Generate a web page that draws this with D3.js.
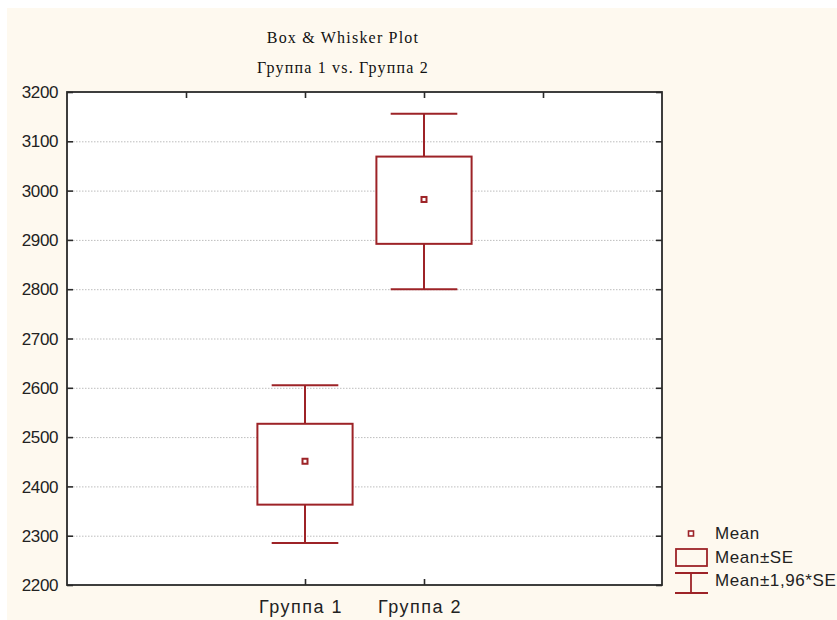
<!DOCTYPE html>
<html><head><meta charset="utf-8">
<script src="https://cdn.jsdelivr.net/npm/d3@7"></script>
<style>html,body{margin:0;padding:0;background:#fff;}svg{display:block;}</style>
</head><body>
<svg id="chart" width="837" height="620"></svg>
<script>
const categories = ["Группа 1", "Группа 2"];
const means = [2451, 2982];
const seLow = [2363, 2892];
const seHigh = [2527, 3069];
const ciLow = [2285, 2800];
const ciHigh = [2605, 3156];
const yTicks = [2200, 2300, 2400, 2500, 2600, 2700, 2800, 2900, 3000, 3100, 3200];
const legendLabels = ["Mean", "Mean±SE", "Mean±1,96*SE"];
const titleLines = ["Box & Whisker Plot", "Группа 1 vs. Группа 2"];

const svg = d3.select("#chart");
const W = 837, H = 620;
const red = "#9d2327";
const m = {left: 67, right: 662, top: 92, bottom: 585};

svg.append("rect").attr("x", 7).attr("y", 8).attr("width", W - 7).attr("height", H - 8).attr("fill", "#fef9ef");

const x = d3.scaleLinear().domain([-2, 3]).range([m.left, m.right]);
const y = d3.scaleLinear().domain([2200, 3200]).range([m.bottom, m.top]);

svg.append("rect").attr("x", m.left).attr("y", m.top)
  .attr("width", m.right - m.left).attr("height", m.bottom - m.top).attr("fill", "#fff");

// gridlines
svg.append("g").selectAll("line").data(yTicks.slice(1, -1)).join("line")
  .attr("x1", m.left + 6).attr("x2", m.right - 6)
  .attr("y1", d => y(d) + 0.5).attr("y2", d => y(d) + 0.5)
  .attr("stroke", "#bdbdbd").attr("stroke-width", 1).attr("stroke-dasharray", "1.5 1.5");

// axes
const axisCol = "#2a2a2a";
const gL = svg.append("g").attr("transform", `translate(${m.left},0)`)
  .call(d3.axisRight(y).tickValues(yTicks).tickSize(6).tickFormat(""));
const gR = svg.append("g").attr("transform", `translate(${m.right},0)`)
  .call(d3.axisLeft(y).tickValues(yTicks).tickSize(6).tickFormat(""));
const gT = svg.append("g").attr("transform", `translate(0,${m.top})`)
  .call(d3.axisBottom(x).tickValues([-1, 0, 1, 2]).tickSize(6).tickFormat(""));
const gB = svg.append("g").attr("transform", `translate(0,${m.bottom})`)
  .call(d3.axisTop(x).tickValues([0, 1]).tickSize(6).tickFormat(""));
[gL, gR, gT, gB].forEach(g => {
  g.select(".domain").remove();
  g.selectAll(".tick line").attr("stroke", axisCol).attr("stroke-width", 1.6);
});
svg.append("rect").attr("x", m.left).attr("y", m.top)
  .attr("width", m.right - m.left).attr("height", m.bottom - m.top)
  .attr("fill", "none").attr("stroke", axisCol).attr("stroke-width", 1.8);

// y labels
svg.append("g").selectAll("text").data(yTicks).join("text")
  .attr("x", 58).attr("y", d => y(d)).attr("dy", "0.36em")
  .attr("text-anchor", "end").attr("font-family", "Liberation Sans, Arial, sans-serif")
  .attr("font-size", 17).attr("letter-spacing", "-0.4").attr("fill", "#222").text(d => d);

// x labels
svg.append("g").selectAll("text").data(categories).join("text")
  .attr("x", (d, i) => x(i) - 4).attr("y", 613)
  .attr("text-anchor", "middle").attr("font-family", "Liberation Sans, Arial, sans-serif")
  .attr("font-size", 18).attr("letter-spacing", "1.5").attr("fill", "#222").text(d => d);

// title
svg.append("g").selectAll("text").data(titleLines).join("text")
  .attr("x", 343).attr("y", (d, i) => 43 + i * 30)
  .attr("text-anchor", "middle").attr("font-family", "Liberation Serif, Times New Roman, serif")
  .attr("font-size", 16).attr("letter-spacing", "1.2").attr("fill", "#111").text(d => d);

// boxes
const g = svg.append("g").attr("stroke", red).attr("stroke-width", 2).attr("fill", "none");
categories.forEach((c, i) => {
  const cx = x(i);
  const bw = x(0.4) - x(0), cw = x(0.28) - x(0);
  g.append("line").attr("x1", cx).attr("x2", cx).attr("y1", y(ciHigh[i])).attr("y2", y(seHigh[i]));
  g.append("line").attr("x1", cx).attr("x2", cx).attr("y1", y(seLow[i])).attr("y2", y(ciLow[i]));
  g.append("line").attr("x1", cx - cw).attr("x2", cx + cw).attr("y1", y(ciHigh[i])).attr("y2", y(ciHigh[i]));
  g.append("line").attr("x1", cx - cw).attr("x2", cx + cw).attr("y1", y(ciLow[i])).attr("y2", y(ciLow[i]));
  g.append("rect").attr("x", cx - bw).attr("y", y(seHigh[i]))
    .attr("width", 2 * bw).attr("height", y(seLow[i]) - y(seHigh[i])).attr("fill", "#fff");
  g.append("rect").attr("x", cx - 2.5).attr("y", y(means[i]) - 2.5).attr("width", 5).attr("height", 5).attr("fill", "#fff");
});

// legend
const lg = svg.append("g");
const lf = "Liberation Sans, Arial, sans-serif";
lg.append("rect").attr("x", 688.5).attr("y", 531).attr("width", 5).attr("height", 5)
  .attr("fill", "#fff").attr("stroke", red).attr("stroke-width", 1.6);
lg.append("rect").attr("x", 676).attr("y", 549).attr("width", 31).attr("height", 17)
  .attr("fill", "none").attr("stroke", red).attr("stroke-width", 1.8);
lg.append("line").attr("x1", 675).attr("x2", 708).attr("y1", 573).attr("y2", 573).attr("stroke", red).attr("stroke-width", 1.8);
lg.append("line").attr("x1", 691).attr("x2", 691).attr("y1", 573).attr("y2", 593).attr("stroke", red).attr("stroke-width", 1.8);
lg.append("line").attr("x1", 675).attr("x2", 708).attr("y1", 593).attr("y2", 593).attr("stroke", red).attr("stroke-width", 1.8);
lg.selectAll("text").data(legendLabels).join("text")
  .attr("x", 715).attr("y", (d, i) => 539 + i * 23.5)
  .attr("font-family", lf).attr("font-size", 17).attr("letter-spacing", "0.6").attr("fill", "#222").text(d => d);
</script>
</body></html>
